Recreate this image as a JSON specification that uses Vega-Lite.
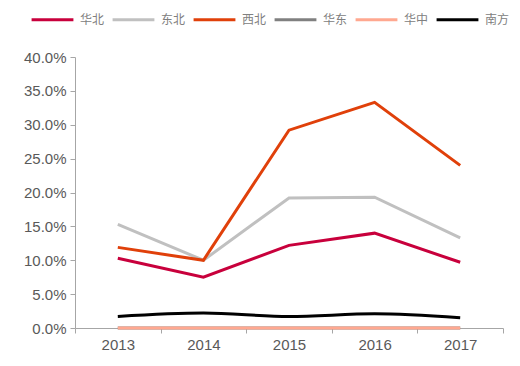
{
  "$schema": "https://vega.github.io/schema/vega-lite/v6.json",
  "width": 520,
  "height": 366,
  "autosize": {"type": "fit", "contains": "padding"},
  "padding": {"left": 23, "top": 50, "right": 16, "bottom": 14},
  "background": "white",
  "config": {
    "view": {"stroke": null},
    "font": "Liberation Sans",
    "axis": {"domainColor": "#A6A6A6", "tickColor": "#A6A6A6", "labelColor": "#595959", "grid": false, "title": null, "tickSize": 5, "labelFontSize": 15, "labelOverlap": false}
  },
  "data": {
    "values": [
      {"year": "2013", "region": "华北", "v": 0.103},
      {"year": "2014", "region": "华北", "v": 0.075},
      {"year": "2015", "region": "华北", "v": 0.122},
      {"year": "2016", "region": "华北", "v": 0.140},
      {"year": "2017", "region": "华北", "v": 0.097},
      {"year": "2013", "region": "东北", "v": 0.153},
      {"year": "2014", "region": "东北", "v": 0.100},
      {"year": "2015", "region": "东北", "v": 0.192},
      {"year": "2016", "region": "东北", "v": 0.193},
      {"year": "2017", "region": "东北", "v": 0.133},
      {"year": "2013", "region": "西北", "v": 0.119},
      {"year": "2014", "region": "西北", "v": 0.100},
      {"year": "2015", "region": "西北", "v": 0.292},
      {"year": "2016", "region": "西北", "v": 0.333},
      {"year": "2017", "region": "西北", "v": 0.240},
      {"year": "2013", "region": "华东", "v": 0.0},
      {"year": "2014", "region": "华东", "v": 0.0},
      {"year": "2015", "region": "华东", "v": 0.0},
      {"year": "2016", "region": "华东", "v": 0.0},
      {"year": "2017", "region": "华东", "v": 0.0},
      {"year": "2013", "region": "华中", "v": 0.0},
      {"year": "2014", "region": "华中", "v": 0.0},
      {"year": "2015", "region": "华中", "v": 0.0},
      {"year": "2016", "region": "华中", "v": 0.0},
      {"year": "2017", "region": "华中", "v": 0.0},
      {"year": "2013", "region": "南方", "v": 0.017},
      {"year": "2014", "region": "南方", "v": 0.022},
      {"year": "2015", "region": "南方", "v": 0.017},
      {"year": "2016", "region": "南方", "v": 0.021},
      {"year": "2017", "region": "南方", "v": 0.015}
    ]
  },
  "encoding": {
    "x": {"field": "year", "type": "ordinal", "scale": {"type": "band", "paddingInner": 0, "paddingOuter": 0},
          "axis": {"labelAngle": 0, "tickBand": "extent", "labelPadding": 4}},
    "y": {"field": "v", "type": "quantitative", "scale": {"domain": [0, 0.4]},
          "axis": {"format": ".1%", "values": [0, 0.05, 0.1, 0.15, 0.2, 0.25, 0.3, 0.35, 0.4], "labelPadding": 4}},
    "color": {"field": "region", "type": "nominal",
              "scale": {"domain": ["华北", "东北", "西北", "华东", "华中", "南方"],
                        "range": ["#C8003C", "#C0C0C0", "#E0400A", "#808080", "#FFA890", "#000000"]},
              "legend": {"orient": "none", "legendX": -45, "legendY": -60, "direction": "horizontal", "columns": 6, "title": null, "symbolType": "stroke", "symbolSize": 1750, "symbolStrokeWidth": 3,
                         "labelFont": "Noto Sans CJK SC", "labelFontSize": 12, "labelColor": "#808080", "columnPadding": 1, "labelOffset": 5}}
  },
  "layer": [
    {
      "mark": {"type": "line", "strokeWidth": 3},
      "transform": [{"filter": "datum.region != '南方'"}]
    },
    {
      "mark": {"type": "line", "strokeWidth": 3, "interpolate": "monotone"},
      "transform": [{"filter": "datum.region == '南方'"}]
    }
  ]
}
